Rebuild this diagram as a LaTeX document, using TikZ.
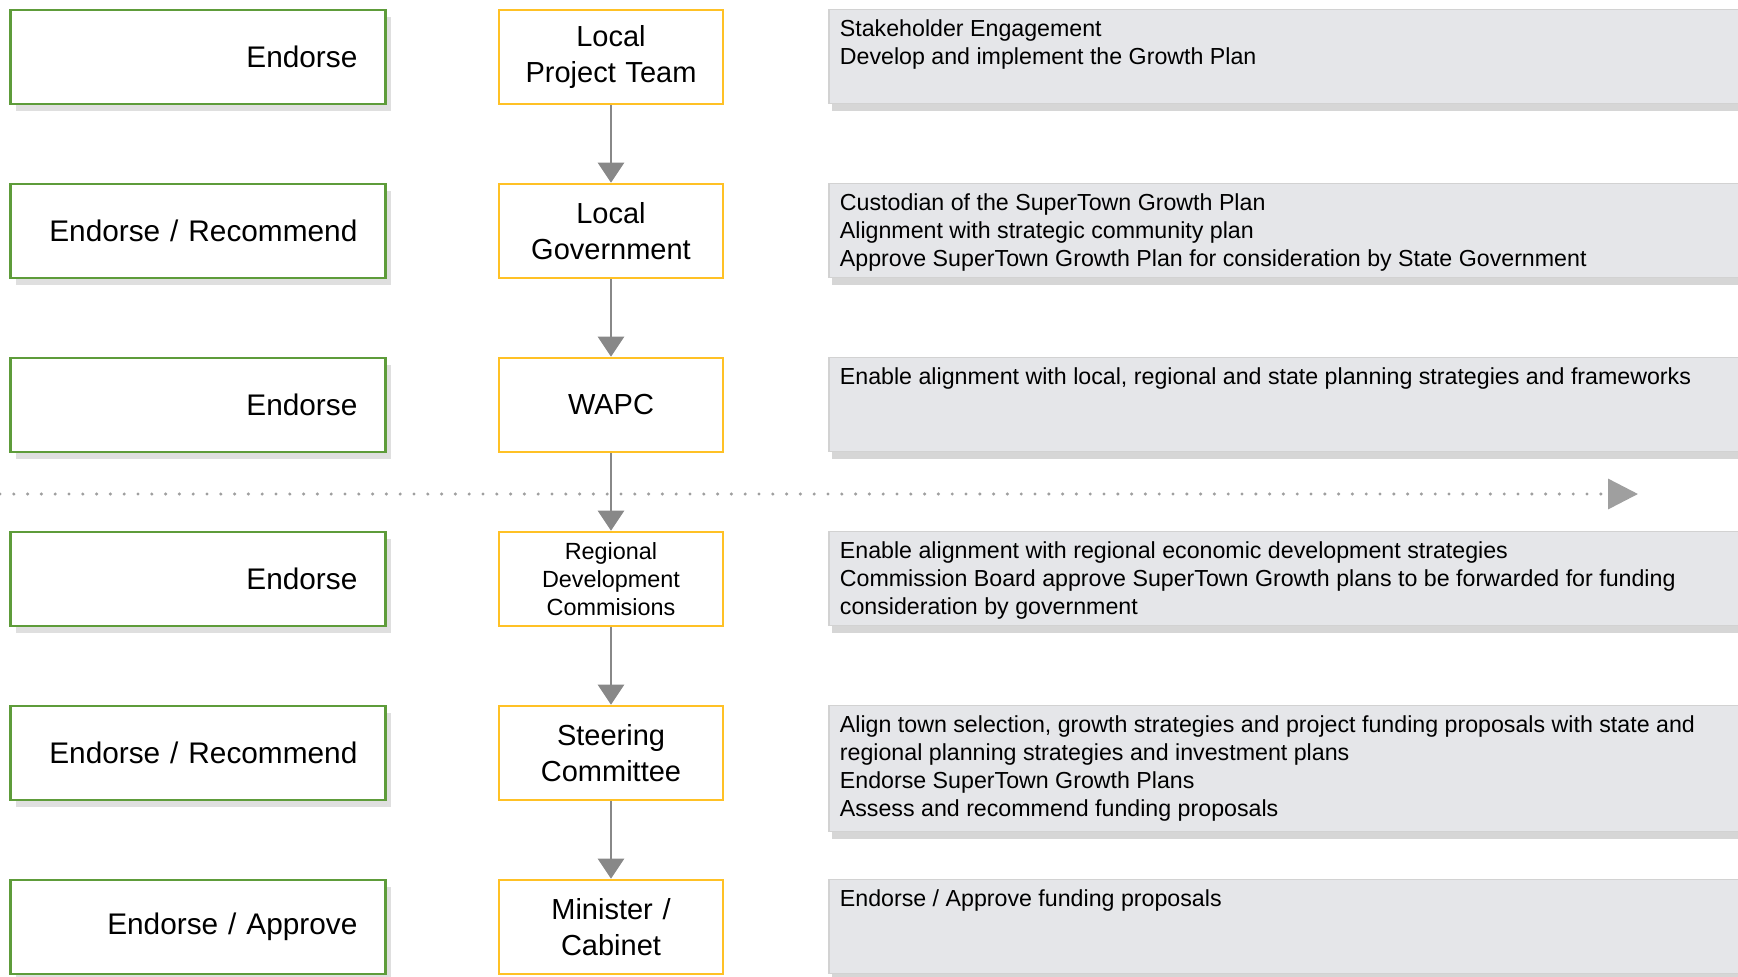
\documentclass[tikz,border=0pt]{standalone}
\usepackage{fontspec}
\setmainfont{Liberation Sans}
\usepackage{xcolor}
\usepackage{tikz}
\usetikzlibrary{positioning, arrows.meta, shadows}

\definecolor{roleGreen}{HTML}{5E9C3A}
\definecolor{bodyYellow}{HTML}{FFC125}
\definecolor{noteGray}{HTML}{E5E6E9}
\definecolor{flowGray}{HTML}{888888}

\newcommand{\notelines}[2]{\parbox[t][#1][t]{460pt}{\raggedright #2}}

\tikzset{
  role/.style={draw=roleGreen, line width=1.3pt, fill=white, minimum height=47pt,
    text width=159.5pt, inner xsep=14pt, align=right, font=\fontsize{14.9}{18}\selectfont,
    drop shadow={shadow xshift=3pt, shadow yshift=-3.5pt, opacity=0.25}},
  body/.style={draw=bodyYellow, line width=1.3pt, fill=white, minimum height=47pt,
    text width=100pt, inner xsep=6pt, align=center, font=\fontsize{14.5}{18.3}\selectfont},
  note/.style={fill=noteGray, draw=gray!35, line width=0.6pt,
    inner xsep=5.5pt, inner ysep=5pt, anchor=north west, font=\fontsize{11.6}{14.1}\selectfont,
    drop shadow={shadow xshift=1.5pt, shadow yshift=-4pt, opacity=0.32}},
  flow/.style={color=flowGray, line width=1.2pt, -{Triangle[width=13pt,length=10pt]}},
  timeline/.style={draw=gray!75, line width=1.7pt, line cap=round, dash pattern=on 0pt off 6.9pt,
    -{Triangle[width=15pt,length=15pt,fill=gray!75]}}
}

\begin{document}
\begin{tikzpicture}
    \useasboundingbox (0,0) rectangle (869pt,-488pt);

    \coordinate (lineL) at (0pt,-247pt);
    \coordinate (lineR) at (819pt,-247pt);
    \draw[timeline] (lineL) -- (lineR);

    \node[body] (lpt) at (305.5pt,-28.5pt) {Local\\Project Team};
    \node[body] (lg) [below=38.7pt of lpt] {Local\\Government};
    \node[body] (wapc) [below=38.7pt of lg] {WAPC};
    \node[body, font=\fontsize{11.7}{14.1}\selectfont] (rdc) [below=38.7pt of wapc] {Regional\\Development\\Commisions};
    \node[body] (sc) [below=38.7pt of rdc] {Steering\\Committee};
    \node[body] (mc) [below=38.7pt of sc] {Minister /\\Cabinet};

    \node[role] (r1) [left=55.5pt of lpt] {Endorse};
    \node[role] (r2) [left=55.5pt of lg] {Endorse / Recommend};
    \node[role] (r3) [left=55.5pt of wapc] {Endorse};
    \node[role] (r4) [left=55.5pt of rdc] {Endorse};
    \node[role] (r5) [left=55.5pt of sc] {Endorse / Recommend};
    \node[role] (r6) [left=55.5pt of mc] {Endorse / Approve};

    \node[note] (n1) [right=52pt of lpt.north east, anchor=north west] {\notelines{37pt}{Stakeholder Engagement\\Develop and implement the Growth Plan}};
    \node[note] (n2) [right=52pt of lg.north east, anchor=north west] {\notelines{37pt}{Custodian of the SuperTown Growth Plan\\Alignment with strategic community plan\\Approve SuperTown Growth Plan for consideration by State Government}};
    \node[note] (n3) [right=52pt of wapc.north east, anchor=north west] {\notelines{37pt}{Enable alignment with local, regional and state planning strategies and frameworks}};
    \node[note] (n4) [right=52pt of rdc.north east, anchor=north west] {\notelines{37pt}{Enable alignment with regional economic development strategies\\Commission Board approve SuperTown Growth plans to be forwarded for funding consideration by government}};
    \node[note] (n5) [right=52pt of sc.north east, anchor=north west] {\notelines{53pt}{Align town selection, growth strategies and project funding proposals with state and regional planning strategies and investment plans\\Endorse SuperTown Growth Plans\\Assess and recommend funding proposals}};
    \node[note] (n6) [right=52pt of mc.north east, anchor=north west] {\notelines{37pt}{Endorse / Approve funding proposals}};

    \path[flow]
        (lpt) edge (lg)
        (lg) edge (wapc)
        (wapc) edge (rdc)
        (rdc) edge (sc)
        (sc) edge (mc);

\end{tikzpicture}
\end{document}
